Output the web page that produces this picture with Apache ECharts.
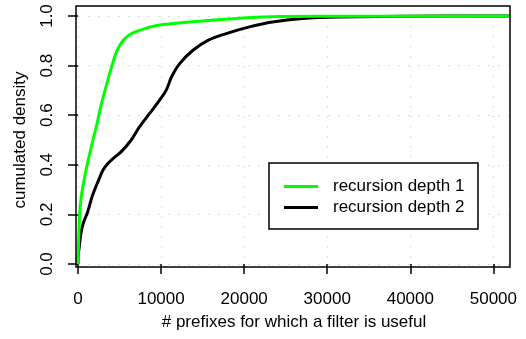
<!DOCTYPE html>
<html>
<head>
<meta charset="utf-8">
<script src="https://cdn.jsdelivr.net/npm/echarts@6/dist/echarts.min.js"></script>
<style>
  html, body { margin: 0; padding: 0; background: #fff; }
  #chart { width: 526px; height: 339px; }
</style>
</head>
<body>
<div id="chart"></div>
<script>
// recursion depth 1 (green)
const depth1X = [0, 40, 120, 200, 400, 800, 1240, 1800, 2300, 2700, 3250, 4160, 4720, 5440, 6440, 8040, 9640, 13440, 19040, 24240, 30000, 52000];
const depth1Y = [0, 0.06, 0.138, 0.205, 0.272, 0.35, 0.42, 0.50, 0.567, 0.63, 0.70, 0.808, 0.862, 0.902, 0.929, 0.949, 0.963, 0.976, 0.99, 0.998, 0.999, 1.0];

// recursion depth 2 (black)
const depth2X = [0, 40, 160, 360, 640, 1160, 1700, 2490, 3000, 3600, 4400, 5210, 6410, 7420, 8620, 9820, 10620, 11270, 12240, 13840, 15640, 17840, 20640, 23400, 27000, 31400, 40000, 52000];
const depth2Y = [0, 0.04, 0.071, 0.125, 0.165, 0.21, 0.272, 0.339, 0.378, 0.405, 0.43, 0.453, 0.50, 0.554, 0.607, 0.661, 0.701, 0.755, 0.808, 0.862, 0.902, 0.929, 0.956, 0.976, 0.99, 0.996, 0.999, 1.0];

const xTicks = [0, 10000, 20000, 30000, 40000, 50000];
const seriesNames = ["recursion depth 1", "recursion depth 2"];

const FONT = "'Liberation Sans', Arial, sans-serif";
const zip = (xs, ys) => xs.map((x, i) => [x, ys[i]]);

const chart = echarts.init(document.getElementById("chart"));

chart.setOption({
  animation: false,
  backgroundColor: "#fff",
  textStyle: { fontFamily: FONT },
  grid: { left: 78, top: 16, width: 432, height: 248 },
  xAxis: {
    type: "value",
    min: 0,
    max: 52000,
    interval: 10000,
    offset: 3,
    name: "# prefixes for which a filter is useful",
    nameLocation: "middle",
    nameGap: 47,
    nameTextStyle: { color: "#000", fontSize: 17, fontFamily: FONT },
    axisLine: { show: false },
    axisTick: {
      show: true,
      length: 10,
      customValues: xTicks,
      lineStyle: { color: "#000", width: 1.5 },
    },
    axisLabel: {
      color: "#000",
      fontSize: 17,
      fontFamily: FONT,
      margin: 24,
      customValues: xTicks,
      formatter: (v) => String(v),
    },
    splitLine: {
      show: true,
      lineStyle: { color: "#d3d3d3", width: 1, type: [1.5, 8.5] },
    },
  },
  yAxis: {
    type: "value",
    min: 0,
    max: 1,
    interval: 0.2,
    offset: 2,
    name: "cumulated density",
    nameLocation: "middle",
    nameGap: 47,
    nameTextStyle: { color: "#000", fontSize: 17, fontFamily: FONT },
    axisLine: { show: false },
    axisTick: {
      show: true,
      length: 10,
      lineStyle: { color: "#000", width: 1.5 },
    },
    axisLabel: {
      color: "#000",
      fontSize: 17,
      fontFamily: FONT,
      rotate: 90,
      margin: 20,
      formatter: (v) => v.toFixed(1),
    },
    splitLine: {
      show: true,
      lineStyle: { color: "#d3d3d3", width: 1, type: [1.5, 8.5] },
    },
  },
  legend: {
    orient: "vertical",
    left: 284,
    top: 176,
    padding: 0,
    z: 20,
    icon: "rect",
    itemWidth: 34,
    itemHeight: 3,
    itemGap: 0,
    data: seriesNames,
    textStyle: {
      color: "#000",
      fontSize: 17,
      fontFamily: FONT,
      lineHeight: 21,
      padding: [0, 0, 0, 10],
    },
  },
  graphic: [
    {
      type: "rect",
      z: 100,
      silent: true,
      shape: { x: 76, y: 6, width: 434, height: 261 },
      style: { fill: "none", stroke: "#000", lineWidth: 1.5 },
    },
    {
      type: "rect",
      z: 10,
      silent: true,
      shape: { x: 269, y: 163, width: 209, height: 66 },
      style: { fill: "#fff", stroke: "#000", lineWidth: 1.5 },
    },
  ],
  series: [
    {
      name: seriesNames[0],
      type: "line",
      data: zip(depth1X, depth1Y),
      showSymbol: false,
      clip: false,
      smooth: 0.35,
      z: 3,
      lineStyle: { color: "#00ff00", width: 3 },
      itemStyle: { color: "#00ff00" },
    },
    {
      name: seriesNames[1],
      type: "line",
      data: zip(depth2X, depth2Y),
      showSymbol: false,
      clip: false,
      smooth: 0.35,
      z: 2,
      lineStyle: { color: "#000", width: 3 },
      itemStyle: { color: "#000" },
    },
  ],
});
</script>
</body>
</html>
